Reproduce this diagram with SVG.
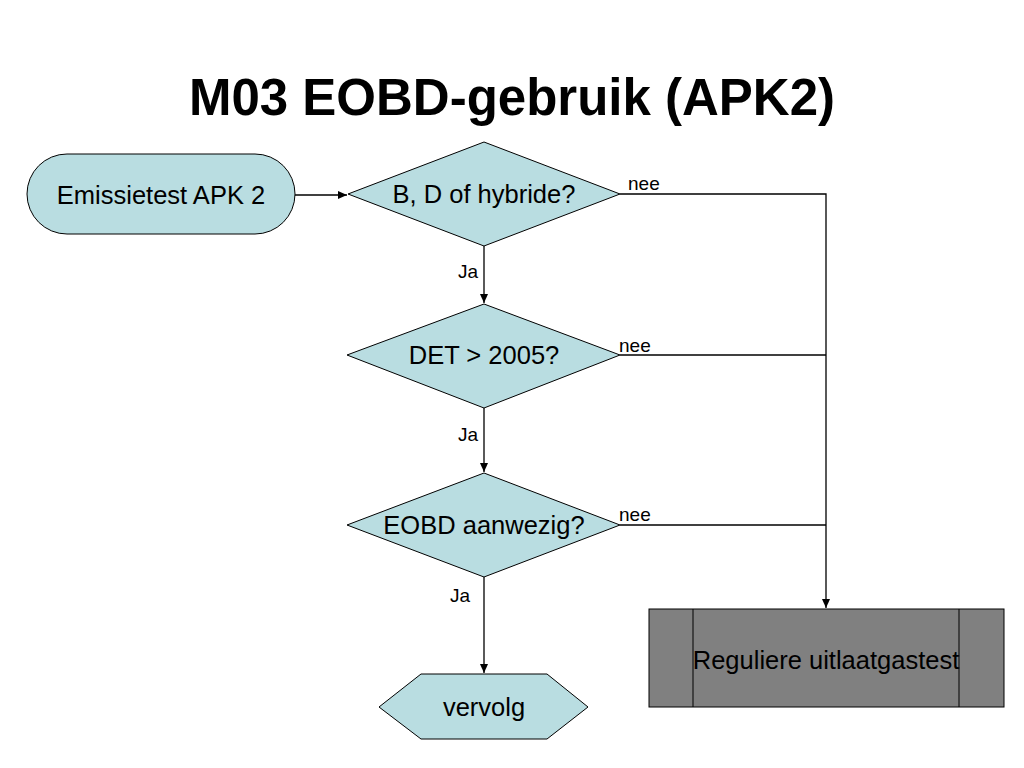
<svg xmlns="http://www.w3.org/2000/svg" width="1024" height="768" viewBox="0 0 1024 768">
<defs>
<style>
.shape{fill:#b9dde1;stroke:#000;stroke-width:1}
.t{font-family:"Liberation Sans",Arial,sans-serif;font-size:25.5px;fill:#000;text-anchor:middle}
.lbl{font-family:"Liberation Sans",Arial,sans-serif;font-size:19px;fill:#000}
.c{fill:none;stroke:#000;stroke-width:1.3}
</style>
<marker id="ah" markerWidth="10" markerHeight="10" refX="9" refY="5" orient="auto" markerUnits="userSpaceOnUse">
<path d="M0,1 L9,5 L0,9 z" fill="#000"/>
</marker>
</defs>
<rect width="1024" height="768" fill="#fff"/>
<text x="512" y="115" font-family="'Liberation Sans',Arial,sans-serif" font-size="51" font-weight="bold" text-anchor="middle">M03 EOBD-gebruik (APK2)</text>
<g id="connectors">
<line class="c" x1="295" y1="195" x2="347" y2="195" marker-end="url(#ah)"/>
<line class="c" x1="484" y1="246" x2="484" y2="303" marker-end="url(#ah)"/>
<line class="c" x1="484" y1="408" x2="484" y2="472" marker-end="url(#ah)"/>
<line class="c" x1="484" y1="577" x2="484" y2="673" marker-end="url(#ah)"/>
<polyline class="c" points="620,194 826,194 826,608" marker-end="url(#ah)"/>
<line class="c" x1="620" y1="355" x2="826" y2="355"/>
<line class="c" x1="620" y1="525" x2="826" y2="525"/>
<text class="lbl" x="628" y="190">nee</text>
<text class="lbl" x="619" y="352">nee</text>
<text class="lbl" x="619" y="521">nee</text>
<text class="lbl" x="458" y="278">Ja</text>
<text class="lbl" x="458" y="441">Ja</text>
<text class="lbl" x="450" y="602">Ja</text>
</g>
<g id="start">
<rect class="shape" x="27" y="154" width="268" height="80" rx="40" ry="40"/>
<text class="t" x="161" y="204">Emissietest APK 2</text>
</g>
<g id="d1">
<polygon class="shape" points="348,194 484,142 620,194 484,246"/>
<text class="t" x="484" y="203">B, D of hybride?</text>
</g>
<g id="d2">
<polygon class="shape" points="347,355 484,304 620,355 484,408"/>
<text class="t" x="484" y="364">DET &gt; 2005?</text>
</g>
<g id="d3">
<polygon class="shape" points="347,525 484,473 620,525 484,577"/>
<text class="t" x="484" y="534">EOBD aanwezig?</text>
</g>
<g id="vervolg">
<polygon class="shape" points="379,707 421,674 547,674 588,707 547,739 421,739"/>
<text class="t" x="484" y="716">vervolg</text>
</g>
<g id="regulier">
<rect x="649" y="609" width="355" height="98" fill="#808080" stroke="#000" stroke-width="1"/>
<line x1="693" y1="609" x2="693" y2="707" stroke="#000" stroke-width="1"/>
<line x1="959" y1="609" x2="959" y2="707" stroke="#000" stroke-width="1"/>
<text class="t" x="826" y="669">Reguliere uitlaatgastest</text>
</g>
</svg>
